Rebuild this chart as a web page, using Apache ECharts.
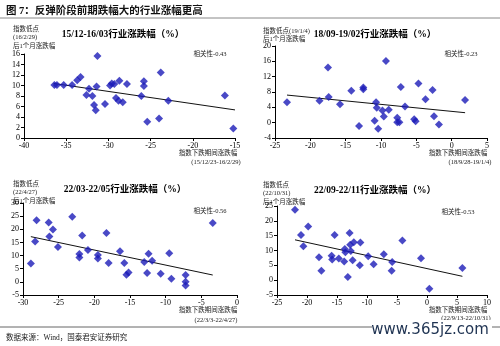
<!DOCTYPE html>
<html><head><meta charset="utf-8">
<script src="https://cdn.jsdelivr.net/npm/echarts@6/dist/echarts.min.js"></script>
<style>html,body{margin:0;padding:0;background:#fff}#c{width:500px;height:346px}</style>
</head><body><div id="c"></div>
<script>
// ---- data ----
const panelTitles = ['15/12-16/03行业涨跌幅（%）','18/09-19/02行业涨跌幅（%）','22/03-22/05行业涨跌幅（%）','22/09-22/11行业涨跌幅（%）'];
const corrLabels = ['相关性-0.43','相关性-0.23','相关性-0.56','相关性-0.53'];
const yLabelLines = [['指数低点','(16/2/29)','后1个月涨跌幅'],['指数低点(19/1/4)','后1个月涨跌幅'],['指数低点','(22/4/27)','后1个月涨跌幅'],['指数低点','(22/10/31)','后1个月涨跌幅']];
const xLabelLines = [['指数下跌期间涨跌幅','(15/12/23-16/2/29)'],['指数下跌期间涨跌幅','(18/9/28-19/1/4)'],['指数下跌期间涨跌幅','(22/3/3-22/4/27)'],['指数下跌期间涨跌幅','(22/9/13-22/10/31)']];

const points1 = [[-36.4,10.1],[-36.1,10.1],[-35.3,10.1],[-34.3,10.1],[-33.7,11.0],[-33.3,11.6],
 [-32.3,9.4],[-32.6,8.2],[-31.9,8.0],[-31.7,6.3],[-31.5,5.3],[-31.4,9.8],[-31.3,15.6],
 [-30.4,6.5],[-29.8,10.0],[-29.6,10.4],[-29.3,10.3],[-28.7,10.9],[-27.8,10.3],
 [-29.1,7.6],[-28.8,7.1],[-28.3,6.8],[-26.1,8.0],[-25.8,10.8],[-25.8,9.9],[-25.4,3.1],
 [-24.0,3.7],[-23.8,12.5],[-22.9,7.1],[-16.2,8.1],[-15.2,1.8]];
const points2 = [[-23.3,5.35],[-18.7,5.7],[-17.5,14.4],[-17.4,6.7],[-15.8,4.8],[-14.2,8.3],[-13.1,-0.9],
 [-12.5,9.2],[-12.5,8.7],[-10.9,0.5],[-10.7,5.3],[-10.6,3.9],[-10.4,-1.6],[-9.8,3.2],[-9.6,1.6],
 [-9.3,16.1],[-8.9,3.4],[-7.7,1.3],[-7.7,0.1],[-7.4,0.1],[-7.2,9.3],[-6.6,4.2],[-5.3,0.9],[-5.1,0.4],
 [-4.7,10.2],[-3.7,6.1],[-2.7,8.5],[-2.5,1.7],[-1.8,-0.5],[1.9,5.9]];
const points3 = [[-28.9,7.0],[-28.3,15.4],[-28.1,23.4],[-26.4,22.6],[-26.3,17.3],[-25.8,19.9],[-25.1,13.3],
 [-23.1,24.8],[-22.1,10.6],[-22.1,9.3],[-21.7,17.6],[-20.9,12.1],[-19.5,10.2],[-19.5,8.9],[-18.3,18.6],
 [-18.0,7.2],[-16.4,11.6],[-15.8,7.2],[-15.5,2.7],[-15.2,3.6],[-13.0,7.6],[-12.6,3.4],[-12.4,10.7],
 [-11.9,8.0],[-10.7,3.1],[-9.5,10.9],[-9.2,1.2],[-7.2,2.6],[-7.2,0.0],[-7.2,-1.4],[-3.4,22.4]];
const points4 = [[-22.0,23.7],[-21.0,15.2],[-20.6,11.4],[-19.8,18.1],[-18.0,7.7],[-17.6,3.2],[-15.9,8.2],
 [-15.8,7.0],[-15.4,15.2],[-14.7,7.3],[-13.8,6.3],[-13.7,10.5],[-13.6,9.4],[-13.2,1.1],[-12.9,15.9],
 [-12.8,11.9],[-12.7,9.8],[-12.2,12.8],[-11.1,12.7],[-12.4,6.7],[-11.2,5.0],[-9.8,8.1],[-8.9,5.4],
 [-7.2,8.7],[-5.9,3.2],[-5.8,6.1],[-4.1,13.4],[-1.0,7.4],[0.4,-2.9],[5.9,4.1]];
const trend1 = [[-36.5,10.4],[-15.0,5.35]];
const trend2 = [[-23.3,7.2],[1.9,2.6]];
const trend3 = [[-28.9,17.2],[-3.4,2.6]];
const trend4 = [[-22.0,13.6],[5.9,1.3]];
const xRanges = [[-40,-15,5],[-25,5,5],[-30,0,5],[-25,10,5]];
const yRanges = [[0,16,2],[-4,20,4],[-5,30,5],[-5,25,5]];
const pageTitle = '图 7：反弹阶段前期跌幅大的行业涨幅更高';
const sourceText = '数据来源：Wind，国泰君安证券研究';
const watermark = 'www.365jz.com';

// ---- layout ----
const grids = [
  {left:24, top:54, width:211, height:84},
  {left:275, top:46, width:212, height:92},
  {left:23, top:203, width:214, height:92},
  {left:277, top:206, width:210, height:89}
];
const allPoints = [points1, points2, points3, points4];
const trends = [trend1, trend2, trend3, trend4];
const serif = '"Liberation Serif","Noto Sans CJK SC",serif';
const cjk = '"Liberation Serif","Noto Sans CJK SC",sans-serif';

const axisCommon = {
  axisLine:{show:true, onZero:false, lineStyle:{color:'#000', width:1}},
  axisTick:{show:true, length:3, lineStyle:{color:'#000'}},
  splitLine:{show:false},
  axisLabel:{color:'#000', fontSize:8, fontFamily:serif, margin:4}
};

const xAxes = [], yAxes = [], series = [];
for (let i=0;i<4;i++){
  xAxes.push(Object.assign({type:'value', gridIndex:i, min:xRanges[i][0], max:xRanges[i][1], interval:xRanges[i][2]}, JSON.parse(JSON.stringify(axisCommon))));
  yAxes.push(Object.assign({type:'value', gridIndex:i, min:yRanges[i][0], max:yRanges[i][1], interval:yRanges[i][2]}, JSON.parse(JSON.stringify(axisCommon))));
  series.push({type:'scatter', xAxisIndex:i, yAxisIndex:i, data:allPoints[i], symbol:'diamond', symbolSize:8,
    itemStyle:{color:'#1c1cb8'}, z:3});
  series.push({type:'line', xAxisIndex:i, yAxisIndex:i, data:trends[i], symbol:'none',
    lineStyle:{color:'#111', width:1}, z:2});
}

// text positions
const titlePos = [[123,35],[375,35],[125,190],[375,191]];
const yLabPos = [[13,29],[263,31],[13,184],[263,185]];
const corrPos = [[210,54],[461,54],[210,211],[458,212]];
const xLabPos = [[208,153,216,162],[458,153,470,162],[208,310,216,320],[458,310,466,318]];

const graphics = [];
graphics.push({type:'text', x:6, y:11, style:{text:pageTitle, font:'bold 10.5px '+cjk, fill:'#111', align:'left', verticalAlign:'middle'}});
graphics.push({type:'line', shape:{x1:0,y1:18,x2:500,y2:18}, style:{stroke:'#888', lineWidth:1}});
for (let i=0;i<4;i++){
  graphics.push({type:'text', x:titlePos[i][0], y:titlePos[i][1], style:{text:panelTitles[i], font:'bold 9.5px '+cjk, fill:'#000', align:'center', verticalAlign:'middle'}});
  yLabelLines[i].forEach((t,k)=>{
    graphics.push({type:'text', x:yLabPos[i][0], y:yLabPos[i][1]+k*8.5, style:{text:t, font:'6.5px '+cjk, fill:'#222', align:'left', verticalAlign:'middle'}});
  });
  graphics.push({type:'text', x:corrPos[i][0], y:corrPos[i][1], style:{text:corrLabels[i], font:'6.5px '+cjk, fill:'#222', align:'center', verticalAlign:'middle'}});
  graphics.push({type:'text', x:xLabPos[i][0], y:xLabPos[i][1], style:{text:xLabelLines[i][0], font:'6.5px '+cjk, fill:'#222', align:'center', verticalAlign:'middle'}});
  graphics.push({type:'text', x:xLabPos[i][2], y:xLabPos[i][3], style:{text:xLabelLines[i][1], font:'6.5px '+serif, fill:'#222', align:'center', verticalAlign:'middle'}});
}
graphics.push({type:'line', shape:{x1:0,y1:327,x2:500,y2:327}, style:{stroke:'#666', lineWidth:1}});
graphics.push({type:'text', x:6, y:338, style:{text:sourceText, font:'7.5px '+cjk, fill:'#222', align:'left', verticalAlign:'middle'}});
graphics.push({type:'rect', shape:{x:372,y:320,width:120,height:17}, style:{fill:'#fff'}});
graphics.push({type:'text', x:430, y:330, style:{text:watermark, font:'15px "DejaVu Sans"', fill:'#1f3352', align:'center', verticalAlign:'middle'}});

const chart = echarts.init(document.getElementById('c'), null, {renderer:'canvas'});
chart.setOption({
  animation:false,
  backgroundColor:'#fff',
  grid: grids,
  xAxis: xAxes,
  yAxis: yAxes,
  series: series,
  graphic: graphics
});
</script></body></html>
